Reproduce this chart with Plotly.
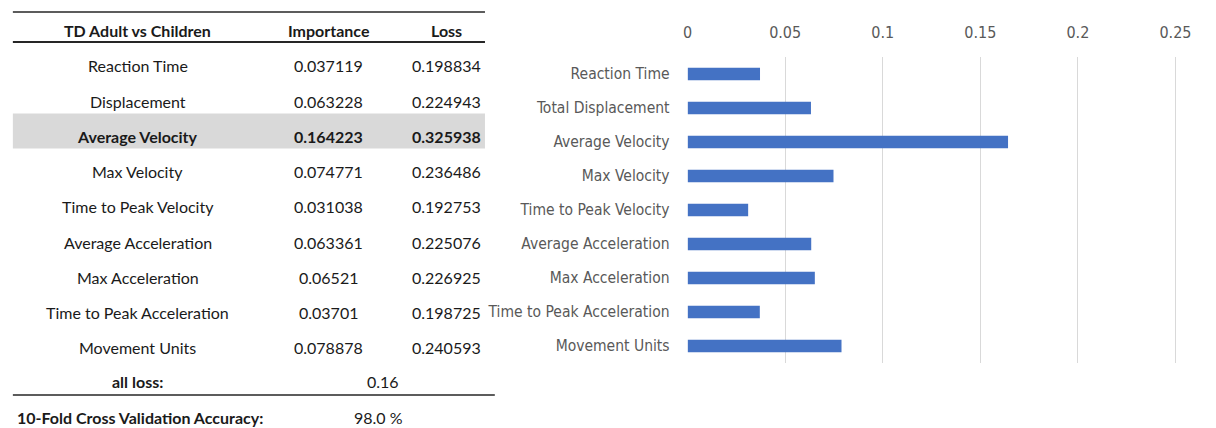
import plotly.graph_objects as go

# ---- data ----
table_features = ["Reaction Time", "Displacement", "Average Velocity", "Max Velocity",
                  "Time to Peak Velocity", "Average Acceleration", "Max Acceleration",
                  "Time to Peak Acceleration", "Movement Units"]
chart_features = ["Reaction Time", "Total Displacement", "Average Velocity", "Max Velocity",
                  "Time to Peak Velocity", "Average Acceleration", "Max Acceleration",
                  "Time to Peak Acceleration", "Movement Units"]
importance = [0.037119, 0.063228, 0.164223, 0.074771, 0.031038,
              0.063361, 0.06521, 0.03701, 0.078878]
loss = [0.198834, 0.224943, 0.325938, 0.236486, 0.192753,
        0.225076, 0.226925, 0.198725, 0.240593]
header = ["TD Adult vs Children", "Importance", "Loss"]
all_loss = 0.16
cv_accuracy = 98.0
highlight_row = 2  # Average Velocity
x_ticks = [0, 0.05, 0.1, 0.15, 0.2, 0.25]

W, H = 1216, 428
TABLE_FONT = "Lato, 'Open Sans', sans-serif"
CHART_FONT = "'Liberation Sans Narrow', 'DejaVu Sans Condensed', sans-serif"
TEXT = "#1a1a1a"
GREY_TXT = "#595959"


def px(x):
    return x / W


def py(y):
    return 1 - y / H


fig = go.Figure()

# ---- bar chart ----
fig.add_trace(go.Bar(
    x=importance, y=chart_features, orientation="h",
    marker=dict(color="#4472C4", line=dict(width=0)),
    showlegend=False, hoverinfo="x+y",
))

# plot area in pixels; the last tick label needs room inside the figure edge
x_max = 0.2506
px_left, px_per_unit = 694, 496 / 0.25
px_right = px_left + x_max * px_per_unit
px_top, px_bottom = 57, 363

fig.update_layout(
    width=W, height=H,
    margin=dict(l=0, r=0, t=0, b=0),
    paper_bgcolor="white", plot_bgcolor="white",
    bargap=0.63,
    xaxis=dict(
        domain=[px(px_left), px(px_right)], range=[0, x_max], side="top",
        tickvals=x_ticks, ticktext=[f"{v:g}" for v in x_ticks],
        showgrid=True, gridcolor="#d9d9d9", gridwidth=1,
        zeroline=False, showline=False, ticks="",
        tickfont=dict(family=CHART_FONT, size=16, color=GREY_TXT),
        ticklabelstandoff=15, fixedrange=True,
    ),
    yaxis=dict(
        domain=[py(px_bottom), py(px_top)],
        autorange="reversed", showgrid=False, zeroline=False, showline=False,
        ticks="", tickfont=dict(family=CHART_FONT, size=15.5, color=GREY_TXT),
        ticklabelstandoff=17, fixedrange=True,
    ),
)

# ---- table ----
col_x = [135, 329, 449]
header_y = 31
row_y0, row_step = 66, 35.2
shapes = []
annotations = []


def text(x, y, s, bold=False, size=16, xanchor="center"):
    annotations.append(dict(
        x=px(x), y=py(y), xref="paper", yref="paper",
        text=f"<b>{s}</b>" if bold else s,
        showarrow=False, xanchor=xanchor, yanchor="middle",
        font=dict(family=TABLE_FONT, size=size, color=TEXT),
    ))


# highlighted row band
hy = row_y0 + highlight_row * row_step
shapes.append(dict(type="rect", xref="paper", yref="paper", x0=px(8), x1=px(488),
                   y0=py(hy + 12), y1=py(hy - 23), fillcolor="#d9d9d9",
                   line=dict(width=0), layer="below"))
# rules
for y, x1, w in [(12, 488, 1.5), (42, 488, 2), (395, 498, 1.5)]:
    shapes.append(dict(type="line", xref="paper", yref="paper", x0=px(8), x1=px(x1),
                       y0=py(y), y1=py(y), line=dict(color="#262626", width=w)))

for cx, h in zip(col_x, header):
    text(cx, header_y, h, bold=True)

for i, (f, imp, ls) in enumerate(zip(table_features, importance, loss)):
    y = row_y0 + i * row_step
    b = i == highlight_row
    text(col_x[0], y, f, bold=b)
    text(col_x[1], y, repr(imp), bold=b)
    text(col_x[2], y, repr(ls), bold=b)

all_y = row_y0 + len(table_features) * row_step - 1
text(col_x[0], all_y, "all loss:", bold=True)
text(384, all_y, f"{all_loss:g}")
text(10, 417, "10-Fold Cross Validation Accuracy:", bold=True, xanchor="left")
text(380, 417, f"{cv_accuracy:.1f} %")

fig.update_layout(shapes=shapes, annotations=annotations)
fig.write_html("out.html")
